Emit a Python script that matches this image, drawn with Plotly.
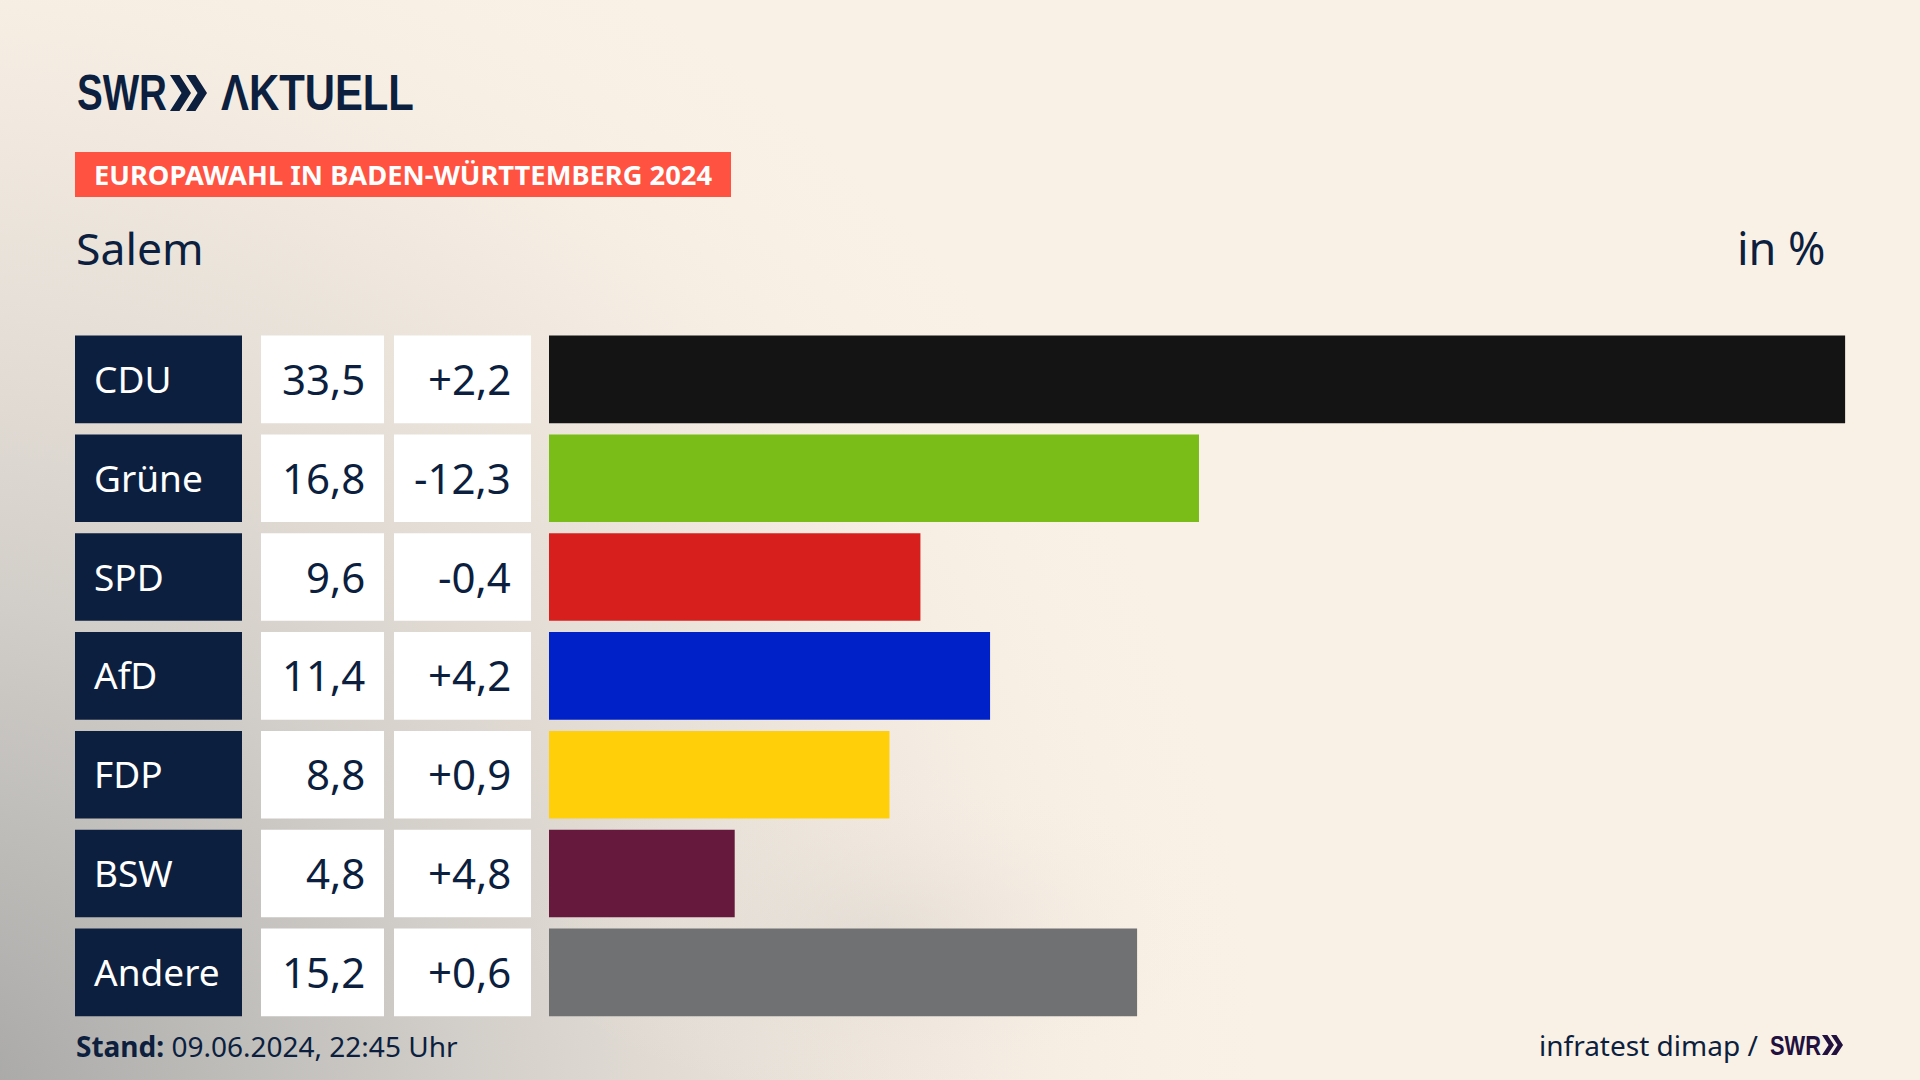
import base64
import plotly.graph_objects as go

parties = ["CDU", "Grüne", "SPD", "AfD", "FDP", "BSW", "Andere"]
shares = [33.5, 16.8, 9.6, 11.4, 8.8, 4.8, 15.2]
changes = [2.2, -12.3, -0.4, 4.2, 0.9, 4.8, 0.6]
colors = ["#141414", "#7abd19", "#d7201e", "#0020c8", "#ffcf0a", "#66193d", "#707173"]

W, H = 1920, 1080
NAVY = "#0c1f3f"
BODY = "Noto Sans"
LOGO = "Liberation Sans"
PX_PER_UNIT = 38.69
BAR_X0 = 549
ROW_PITCH = 98.83
ROW0_CENTER = 379.4
ROW_H = 87.6

svg = f'''<svg xmlns="http://www.w3.org/2000/svg" width="{W}" height="{H}" viewBox="0 0 {W} {H}">
<defs>
<radialGradient id="a" gradientUnits="userSpaceOnUse" cx="0" cy="0" r="1" gradientTransform="translate(-60 1120) scale(1350 1350)">
<stop offset="0" stop-color="#a4a4a3" stop-opacity="1"/>
<stop offset="0.3" stop-color="#c2c0bd" stop-opacity="0.9"/>
<stop offset="0.65" stop-color="#dfd9d2" stop-opacity="0.6"/>
<stop offset="1" stop-color="#faf1e6" stop-opacity="0"/>
</radialGradient>
<radialGradient id="b" gradientUnits="userSpaceOnUse" cx="0" cy="0" r="1" gradientTransform="translate(880 930) scale(360 170)">
<stop offset="0" stop-color="#d8d2cb" stop-opacity="0.45"/>
<stop offset="1" stop-color="#faf1e6" stop-opacity="0"/>
</radialGradient>
</defs>
<rect width="{W}" height="{H}" fill="#faf1e6"/>
<rect width="{W}" height="{H}" fill="url(#a)"/>
<rect width="{W}" height="{H}" fill="url(#b)"/>
</svg>'''
bg = "data:image/svg+xml;base64," + base64.b64encode(svg.encode()).decode()


def px(x):
    return x / W


def py(y):
    return 1 - y / H


def fmt(v, sign=False):
    s = f"{abs(v):.1f}".replace(".", ",")
    if v < 0:
        return "-" + s
    return ("+" + s) if sign else s


fig = go.Figure(
    go.Bar(
        x=shares,
        y=parties,
        orientation="h",
        width=ROW_H / ROW_PITCH,
        marker=dict(color=colors, line=dict(width=0)),
        hoverinfo="skip",
    )
)

shapes = []
ann = []


def text(x, y, s, size, color=NAVY, anchor="left", font=BODY, yref="paper", yshift=0):
    ann.append(dict(
        x=px(x), xref="paper", y=py(y) if yref == "paper" else y, yref=yref,
        text=s, showarrow=False, xanchor=anchor, yanchor="middle",
        font=dict(family=font, size=size, color=color), align=anchor,
        borderpad=0, yshift=yshift,
    ))


def rect(x0, x1, y0, y1, color, yref="paper"):
    shapes.append(dict(
        type="rect", xref="paper", yref=yref,
        x0=px(x0), x1=px(x1),
        y0=py(y0) if yref == "paper" else y0,
        y1=py(y1) if yref == "paper" else y1,
        fillcolor=color, line=dict(width=0), layer="above",
    ))


def chevrons(x, top, bottom, w, gap, color):
    mid = (top + bottom) / 2
    for k in range(2):
        x0 = x + k * gap
        t = w * 0.45
        pts = [(x0, top), (x0 + t, top), (x0 + w, mid), (x0 + t, bottom), (x0, bottom), (x0 + w - t, mid)]
        d = "M " + " L ".join(f"{px(a):.5f},{py(b):.5f}" for a, b in pts) + " Z"
        shapes.append(dict(type="path", xref="paper", yref="paper", path=d, fillcolor=color, line=dict(width=0)))


half = ROW_H / ROW_PITCH / 2
for i, (p, s, c) in enumerate(zip(parties, shares, changes)):
    rect(75, 242, i - half, i + half, NAVY, yref="y")
    rect(261, 384, i - half, i + half, "#ffffff", yref="y")
    rect(394, 531, i - half, i + half, "#ffffff", yref="y")
    text(93, i, p, 37, "#ffffff", yref="y", yshift=1)
    text(366, i, fmt(s), 42, anchor="right", yref="y", yshift=1)
    text(512, i, fmt(c, True), 42, anchor="right", yref="y", yshift=1)

text(76, 93, "<b>SWR</b>", 50, font=LOGO)
chevrons(170, 75, 111, 21, 16, NAVY)
text(220, 93, "<b>ΛKTUELL</b>", 50, font=LOGO)
rect(75, 731, 152, 197, "#ff5240")
text(93, 175, "<b>EUROPAWAHL IN BADEN-WÜRTTEMBERG 2024</b>", 27.3, "#ffffff")
text(75, 247, "Salem", 44.5)
text(1827, 247, "in %", 45, anchor="right")
text(75, 1046, "<b>Stand:</b> 09.06.2024, 22:45 Uhr", 28)
text(1759, 1045, "infratest dimap /", 28, anchor="right")
text(1769, 1045, "<b>SWR</b>", 28, "#22103f", font=LOGO)
chevrons(1822, 1035, 1055, 12, 9, "#22103f")

fig.update_layout(
    width=W,
    height=H,
    margin=dict(l=0, r=0, t=0, b=0, pad=0),
    paper_bgcolor="#faf1e6",
    plot_bgcolor="rgba(0,0,0,0)",
    showlegend=False,
    xaxis=dict(
        range=[-BAR_X0 / PX_PER_UNIT, (W - BAR_X0) / PX_PER_UNIT],
        visible=False, fixedrange=True,
    ),
    yaxis=dict(
        type="category", categoryorder="array", categoryarray=parties,
        range=[(H - ROW0_CENTER) / ROW_PITCH, -ROW0_CENTER / ROW_PITCH],
        visible=False, fixedrange=True,
    ),
    shapes=shapes,
    annotations=ann,
    images=[dict(source=bg, xref="paper", yref="paper", x=0, y=1, sizex=1, sizey=1,
                 xanchor="left", yanchor="top", sizing="stretch", layer="below")],
)

# The logo lettering is condensed; squeeze those real text elements to its width.
post = """
document.body.style.margin='0';document.body.style.overflow='hidden';
document.querySelectorAll('.annotation-text').forEach(function(t){
  var s=t.textContent, w=0;
  if(s==='SWR'){w=t.getBBox().height>40?90:51;}
  else if(s==='ΛKTUELL'){w=193;}
  if(w){var b=t.getBBox(),k=w/b.width;
    t.setAttribute('transform','translate('+(b.x*(1-k))+',0) scale('+k+',1)');}
});
"""

fig.write_html(
    "out.html",
    config=dict(displayModeBar=False, responsive=False),
    post_script=post,
)
